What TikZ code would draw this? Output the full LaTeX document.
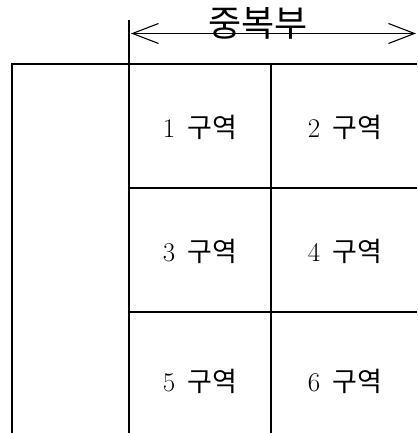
\documentclass[tikz,border=0pt]{standalone}
\usepackage{fontspec}
\newfontfamily\krfont{Noto Sans CJK KR}
\usetikzlibrary{arrows.meta}
\newcommand{\gu}[1]{#1\hspace{0.45em}{\krfont 구역}}
\begin{document}
\begin{tikzpicture}[x=1pt,y=1pt,
  frame/.style={line width=1.6pt},
  dimline/.style={line width=1.1pt},
  celltext/.style={font=\fontsize{27}{29}\selectfont, inner sep=0pt},
  titletext/.style={font=\krfont\fontsize{36}{38}\selectfont, inner sep=0pt}]
\useasboundingbox (0,0) rectangle (417,433);
% frame
\draw[frame] (12,0) -- (12,369) -- (417,369);
\draw[frame] (129,0) -- (129,369);
\draw[dimline] (129,369) -- (129,413);
\draw[frame] (271,0) -- (271,369);
\draw[frame] (129,245) -- (417,245);
\draw[frame] (129,121) -- (417,121);
% dimension arrow
\coordinate (aL) at (131,399.5);
\coordinate (aR) at (416,399.5);
\draw[dimline, {Straight Barb[length=26pt,width=20pt]}-{Straight Barb[length=26pt,width=20pt]}] (aL) -- (aR);
\node[titletext] (title) at (258,410) {중복부};
% cells
\node[celltext] (c1) at (200,306) {\gu{1}};
\node[celltext] (c2) at (345,306) {\gu{2}};
\node[celltext] (c3) at (200,182) {\gu{3}};
\node[celltext] (c4) at (345,182) {\gu{4}};
\node[celltext] (c5) at (200,52) {\gu{5}};
\node[celltext] (c6) at (345,52) {\gu{6}};
\end{tikzpicture}
\end{document}
